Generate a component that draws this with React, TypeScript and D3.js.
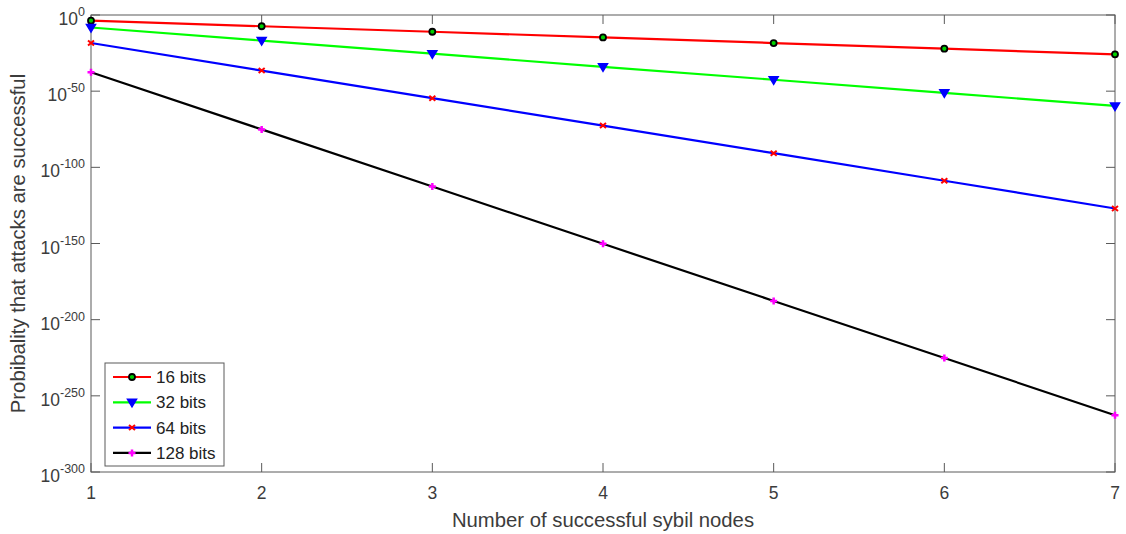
import * as d3 from "d3";
import { useEffect, useRef } from "react";

// number of successful sybil nodes
const nodes = [1, 2, 3, 4, 5, 6, 7];
// log10 of the success probability
const bits16 = [-3.7, -7.4, -11.0, -14.7, -18.4, -22.1, -25.8];
const bits32 = [-8.2, -16.8, -25.4, -34.0, -42.5, -51.1, -59.7];
const bits64 = [-18.4, -36.5, -54.6, -72.6, -90.7, -108.8, -127.0];
const bits128 = [-37.6, -75.1, -112.6, -150.2, -187.7, -225.2, -262.7];
const seriesNames = ["16 bits", "32 bits", "64 bits", "128 bits"];
const yTickExps = [0, -50, -100, -150, -200, -250, -300];

const W = 1126,
  H = 534;
const margin = { top: 15, left: 91, right: 11, bottom: 62 };
const font = "'Liberation Sans', Arial, sans-serif";
const axisColor = "#5a5a5a";
const textColor = "#3c3c3c";

const App = () => {
  const ref = useRef<SVGSVGElement | null>(null);

  useEffect(() => {
    const svg = d3.select(ref.current);
    svg.selectAll("*").remove();

    const x0 = margin.left,
      x1 = W - margin.right,
      y0 = margin.top,
      y1 = H - margin.bottom;

    const x = d3.scaleLinear().domain([1, 7]).range([x0, x1]);
    // log scale drawn on exponents directly (values are far below float range)
    const y = d3.scaleLinear().domain([0, -300]).range([y0, y1]);

    const g = svg.append("g");

    // box
    g.append("rect")
      .attr("x", x0)
      .attr("y", y0)
      .attr("width", x1 - x0)
      .attr("height", y1 - y0)
      .attr("fill", "white")
      .attr("stroke", axisColor)
      .attr("stroke-width", 1);

    const tl = 9;
    // x ticks
    nodes.forEach((n) => {
      const px = x(n);
      g.append("line").attr("x1", px).attr("x2", px).attr("y1", y1).attr("y2", y1 - tl).attr("stroke", axisColor);
      g.append("line").attr("x1", px).attr("x2", px).attr("y1", y0).attr("y2", y0 + tl).attr("stroke", axisColor);
      g.append("text")
        .attr("x", px)
        .attr("y", y1 + 26.5)
        .attr("text-anchor", "middle")
        .attr("font-family", font)
        .attr("font-size", 17.5)
        .attr("fill", textColor)
        .text(n);
    });

    // y ticks
    yTickExps.forEach((e) => {
      const py = y(e);
      g.append("line").attr("x1", x0).attr("x2", x0 + tl).attr("y1", py).attr("y2", py).attr("stroke", axisColor);
      g.append("line").attr("x1", x1).attr("x2", x1 - tl).attr("y1", py).attr("y2", py).attr("stroke", axisColor);
      const t = g
        .append("text")
        .attr("x", x0 - 6)
        .attr("y", py + 10)
        .attr("text-anchor", "end")
        .attr("font-family", font)
        .attr("font-size", 17.5)
        .attr("fill", textColor);
      t.append("tspan").text("10");
      t.append("tspan").attr("dy", -9).attr("font-size", 12.5).text(e);
    });

    // axis labels
    g.append("text")
      .attr("x", (x0 + x1) / 2)
      .attr("y", y1 + 54.5)
      .attr("text-anchor", "middle")
      .attr("font-family", font)
      .attr("font-size", 20.3)
      .attr("fill", textColor)
      .text("Number of successful sybil nodes");
    g.append("text")
      .attr("transform", `translate(25,${(y0 + y1) / 2}) rotate(-90)`)
      .attr("text-anchor", "middle")
      .attr("font-family", font)
      .attr("font-size", 20.3)
      .attr("fill", textColor)
      .text("Probibality that attacks are successful");

    const series = [
      { name: seriesNames[0], vals: bits16, color: "#ff0000", marker: "circle" },
      { name: seriesNames[1], vals: bits32, color: "#00ff00", marker: "tri" },
      { name: seriesNames[2], vals: bits64, color: "#0000ff", marker: "x" },
      { name: seriesNames[3], vals: bits128, color: "#000000", marker: "plus" },
    ];

    const drawMarker = (sel: any, type: string, cx: number, cy: number) => {
      if (type === "circle") {
        sel.append("circle").attr("cx", cx).attr("cy", cy).attr("r", 3).attr("fill", "#00d000").attr("stroke", "#000").attr("stroke-width", 1.8);
      } else if (type === "tri") {
        sel.append("path")
          .attr("d", `M${cx - 4.5},${cy - 3}L${cx + 4.5},${cy - 3}L${cx},${cy + 4.5}Z`)
          .attr("fill", "#0000ff")
          .attr("stroke", "#0000ff")
          .attr("stroke-width", 1.5);
      } else if (type === "x") {
        sel.append("path")
          .attr("d", `M${cx - 3},${cy - 2.5}L${cx + 3},${cy + 2.5}M${cx - 3},${cy + 2.5}L${cx + 3},${cy - 2.5}`)
          .attr("stroke", "#ff0000")
          .attr("stroke-width", 2);
      } else {
        sel.append("path")
          .attr("d", `M${cx - 3.5},${cy}L${cx + 3.5},${cy}M${cx},${cy - 3.5}L${cx},${cy + 3.5}`)
          .attr("stroke", "#ff00ff")
          .attr("stroke-width", 2.5);
      }
    };

    const line = d3
      .line<number>()
      .x((_, i) => x(nodes[i]))
      .y((d) => y(d));

    series.forEach((s) => {
      g.append("path").attr("d", line(s.vals)).attr("fill", "none").attr("stroke", s.color).attr("stroke-width", 2.2);
      s.vals.forEach((v, i) => drawMarker(g, s.marker, x(nodes[i]), y(v)));
    });

    // legend
    const lx = 105,
      ly = 363;
    g.append("rect")
      .attr("x", lx)
      .attr("y", ly)
      .attr("width", 119)
      .attr("height", 103)
      .attr("fill", "white")
      .attr("stroke", axisColor);
    series.forEach((s, i) => {
      const cy = ly + 14 + i * 25.3;
      g.append("line").attr("x1", lx + 8).attr("x2", lx + 46).attr("y1", cy).attr("y2", cy).attr("stroke", s.color).attr("stroke-width", 2.2);
      drawMarker(g, s.marker, lx + 27, cy);
      g.append("text")
        .attr("x", lx + 51)
        .attr("y", cy + 6)
        .attr("font-family", font)
        .attr("font-size", 17)
        .attr("fill", "#222")
        .text(s.name);
    });
  }, []);

  return (
    <div>
      <svg ref={ref} width={W} height={H} style={{ position: "absolute", left: 0, top: 0 }} />
    </div>
  );
};

export default App;
